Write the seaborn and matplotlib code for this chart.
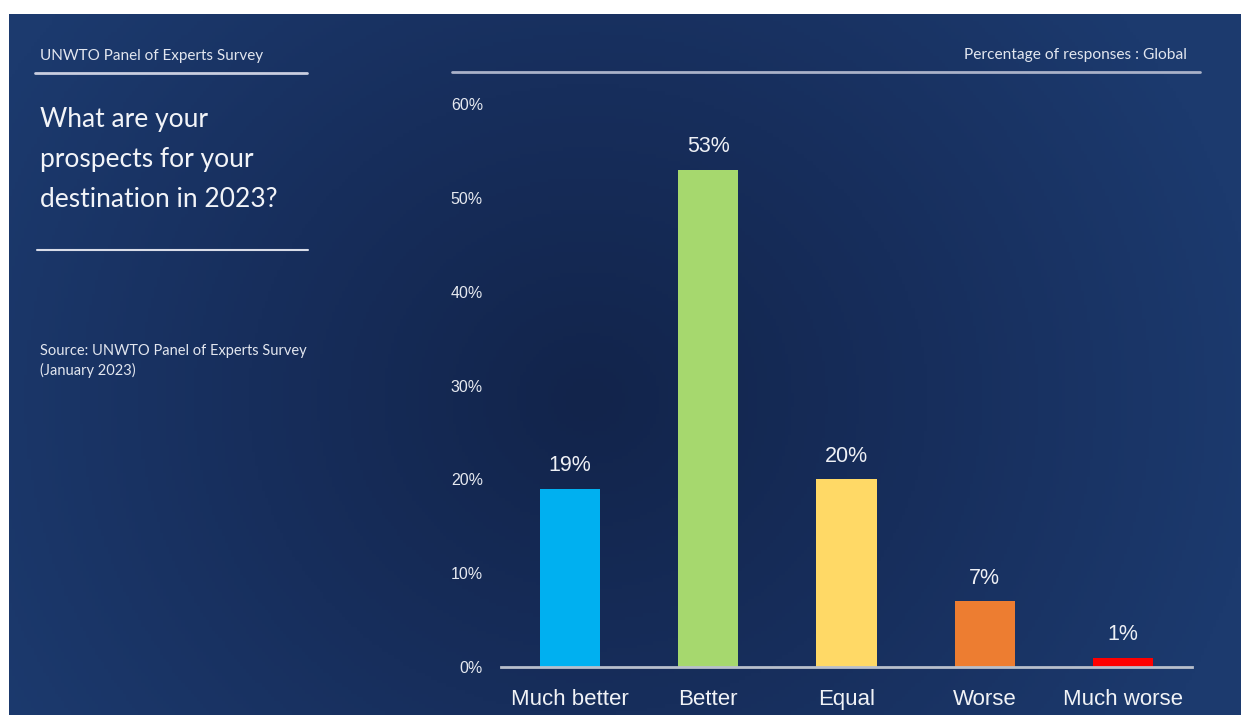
import numpy as np
import pandas as pd
import matplotlib
matplotlib.use("Agg")
import matplotlib.pyplot as plt
import seaborn as sns
from matplotlib.colors import LinearSegmentedColormap

categories = ["Much better", "Better", "Equal", "Worse", "Much worse"]
values = [19, 53, 20, 7, 1]
bar_colors = ["#00b0f0", "#a6d86e", "#ffd966", "#ed7d31", "#ff0000"]
yticks = [0, 10, 20, 30, 40, 50, 60]

header_left = "UNWTO Panel of Experts Survey"
header_right = "Percentage of responses : Global"
title_text = "What are your\nprospects for your\ndestination in 2023?"
source_text = "Source: UNWTO Panel of Experts Survey\n(January 2023)"

sns.set_theme(style="white")
plt.rcParams["font.family"] = ["Liberation Sans", "DejaVu Sans"]

W, H = 1241, 715
fig = plt.figure(figsize=(W / 100, H / 100), dpi=100)
fig.patch.set_facecolor("white")

# background panel with gradient
bg = fig.add_axes([9 / W, 0, 1 - 9 / W, (H - 14) / H])
bg.set_axis_off()
nx, ny = 400, 200
xx = np.linspace(0, 1, nx)
yy = np.linspace(0, 1, ny)
X, Y = np.meshgrid(xx, yy)
d = np.sqrt(((X - 0.47) / 0.55) ** 2 + ((Y - 0.55) / 0.9) ** 2)
d = np.clip(d, 0, 1)
cmap = LinearSegmentedColormap.from_list("bg", ["#12244b", "#172e5c", "#1c3a6e"])
bg.imshow(d, cmap=cmap, aspect="auto", extent=[0, 1, 0, 1], origin="upper")
bg.set_xlim(0, 1)
bg.set_ylim(0, 1)

df = pd.DataFrame({"category": categories, "value": values})

ax = fig.add_axes([501 / W, (H - 667) / H, 691 / W, (667 - 104) / H])
ax.patch.set_alpha(0)
sns.barplot(data=df, x="category", y="value", hue="category",
            palette=bar_colors, legend=False, width=0.435, ax=ax,
            saturation=1, edgecolor="none")
ax.set_xlim(-0.5, 4.5)
ax.set_ylim(0, 60)
ax.set_yticks(yticks)
ax.set_yticklabels([f"{t}%" for t in yticks], color="#e6e9f0", fontsize=11.5)
ax.tick_params(axis="y", length=0, pad=13)
ax.tick_params(axis="x", length=0, pad=16, labelsize=16, labelcolor="#f0f2f6")
ax.set_xlabel("")
ax.set_ylabel("")
for s in ["top", "right", "left"]:
    ax.spines[s].set_visible(False)
ax.spines["bottom"].set_color("#b8bfcc")
ax.spines["bottom"].set_linewidth(2)

for i, v in enumerate(values):
    ax.annotate(f"{v}%", (i, v), xytext=(0, 9), textcoords="offset points",
                ha="center", va="bottom", fontsize=15.5, color="#eef0f5")

# left texts
tf = ["Lato", "DejaVu Sans"]
fig.text(40 / W, 1 - 56 / H, header_left, fontsize=11, color="#e2e6ef",
         family=tf, va="center", ha="left")
fig.add_artist(plt.Line2D([35 / W, 307 / W], [1 - 73 / H, 1 - 73 / H],
                          color="#c9cee0", lw=2))
fig.text(1187 / W, 1 - 55 / H, header_right, fontsize=11.2, color="#e2e6ef",
         family=tf, va="center", ha="right")
fig.add_artist(plt.Line2D([452 / W, 1200 / W], [1 - 72 / H, 1 - 72 / H],
                          color="#a9b1c8", lw=2))
fig.text(40 / W, 1 - 107 / H, title_text, fontsize=19, color="#f2f4f8",
         family=tf, va="top", ha="left", linespacing=1.74)
fig.add_artist(plt.Line2D([37 / W, 308 / W], [1 - 250 / H, 1 - 250 / H],
                          color="#d8dce8", lw=1.5))
fig.text(40 / W, 1 - 344 / H, source_text, fontsize=10.5, color="#e2e6ef",
         family=tf, va="top", ha="left", linespacing=1.4)

fig.savefig("out.png", dpi=100, facecolor=fig.get_facecolor())
